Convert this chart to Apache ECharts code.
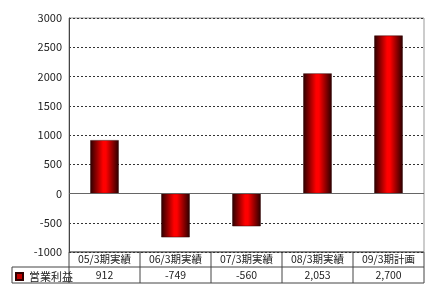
<!DOCTYPE html>
<html><head><meta charset="utf-8">
<script src="https://cdn.jsdelivr.net/npm/echarts@6/dist/echarts.min.js"></script>
<style>html,body{margin:0;padding:0;background:#fff}#c{width:434px;height:293px}</style>
</head><body><div id="c"></div>
<script>
const categories = ['05/3期実績','06/3期実績','07/3期実績','08/3期実績','09/3期計画'];
const seriesName = '営業利益';
const values = [912, -749, -560, 2053, 2700];
const yTicks = {min: -1000, max: 3000, interval: 500};

const valueLabels = values.map(v => v.toLocaleString('en-US'));
const font = '"Noto Sans CJK JP", sans-serif';
const chart = echarts.init(document.getElementById('c'));

const L = 69, R = 424, T = 18, B = 252, R1 = 267, R2 = 283, LL = 12;
const colW = (R - L) / categories.length;
const lines = [];
const ln = (x1,y1,x2,y2,c,w) => lines.push({type:'line',shape:{x1,y1,x2,y2},style:{stroke:c||'#444',lineWidth:w||1},silent:true});
// table
ln(L, B, R, B, '#888', 2);
ln(LL, R1, R, R1);
ln(LL, R2, R, R2);
ln(LL, R1, LL, R2);
ln(L, B, L, R2);
ln(R, B, R, R2);
for (let i = 1; i < categories.length; i++) ln(L + colW*i, B, L + colW*i, R2);

chart.setOption({
  animation: false,
  textStyle: {fontFamily: font},
  grid: {left: L, right: 434 - R, top: T, bottom: 293 - B, show: true, borderColor: '#999', borderWidth: 1},
  legend: {
    data: [{name: seriesName, itemStyle: {color: '#c00000'}}],
    left: LL + 1, top: R1 + 2, itemWidth: 7, itemHeight: 7, icon: 'rect', itemGap: 4,
    textStyle: {fontSize: 11, color: '#222', fontFamily: font, padding: [0,0,0,1]},
    padding: 2
  },
  xAxis: [{
    type: 'category', data: categories, position: 'bottom',
    axisLine: {show: false, onZero: false}, axisTick: {show: false},
    axisLabel: {fontSize: 10.5, color: '#222', margin: 2, fontFamily: font}
  },{
    type: 'category', data: valueLabels, position: 'bottom', offset: 16,
    axisLine: {show: false, onZero: false}, axisTick: {show: false},
    axisLabel: {fontSize: 10.5, color: '#222', margin: 2, fontFamily: font}
  }],
  yAxis: {
    type: 'value', min: yTicks.min, max: yTicks.max, interval: yTicks.interval,
    axisLine: {show: true, lineStyle: {color: '#444'}}, axisTick: {show: false},
    axisLabel: {fontSize: 11, color: '#222', margin: 7, fontFamily: font, formatter: v => String(v)},
    splitLine: {show: true, lineStyle: {color: '#333', type: [2, 2], width: 1}}
  },
  series: [{
    name: seriesName, type: 'bar', data: values, barWidth: '40%',
    itemStyle: {
      color: new echarts.graphic.LinearGradient(0, 0, 1, 0, [
        {offset: 0, color: '#2a0000'},
        {offset: 0.45, color: '#ff0000'},
        {offset: 0.55, color: '#ff0000'},
        {offset: 1, color: '#2a0000'}
      ]),
      borderColor: '#300000', borderWidth: 0.5
    },
    markLine: {
      silent: true, symbol: 'none', label: {show: false},
      lineStyle: {color: '#666', type: 'solid', width: 1},
      data: [{yAxis: 0}]
    }
  }],
  graphic: lines
});
</script></body></html>
